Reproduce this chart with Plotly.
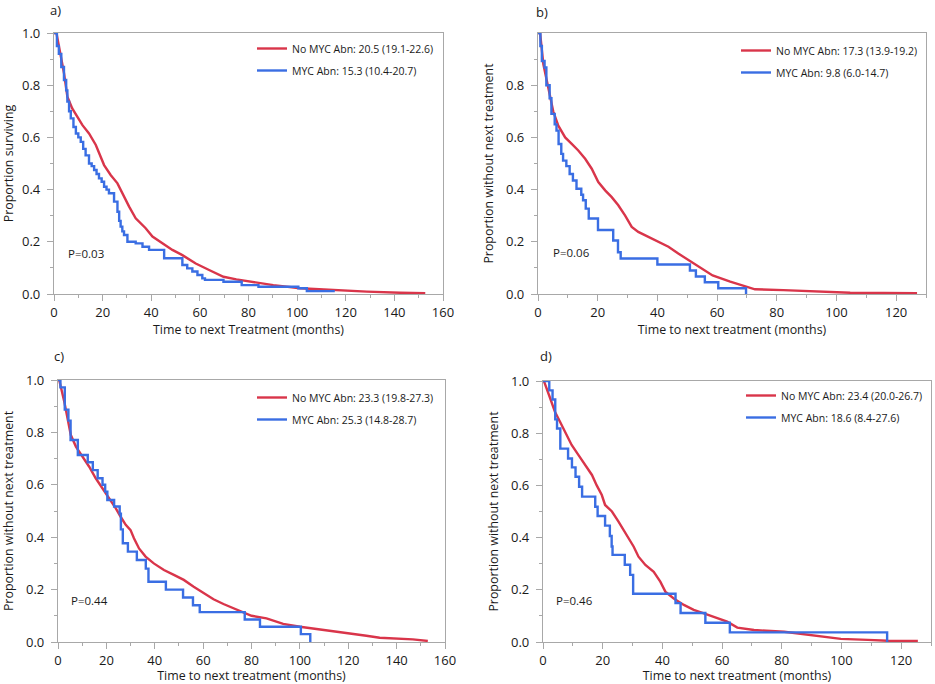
import plotly.graph_objects as go

# ---------------- data ----------------
legend_red = ["No MYC Abn: 20.5 (19.1-22.6)", "No MYC Abn: 17.3 (13.9-19.2)",
              "No MYC Abn: 23.3 (19.8-27.3)", "No MYC Abn: 23.4 (20.0-26.7)"]
legend_blue = ["MYC Abn: 15.3 (10.4-20.7)", "MYC Abn: 9.8 (6.0-14.7)",
               "MYC Abn: 25.3 (14.8-28.7)", "MYC Abn: 18.6 (8.4-27.6)"]
p_values = ["P=0.03", "P=0.06", "P=0.44", "P=0.46"]
panel_labels = ["a)", "b)", "c)", "d)"]
x_titles = ["Time to next Treatment (months)", "Time to next treatment (months)",
            "Time to next treatment (months)", "Time to next treatment (months)"]
y_titles = ["Proportion surviving", "Proportion without next treatment",
            "Proportion without next treatment", "Proportion without next treatment"]

# panel a
a_red_t = [0, 1, 4.1, 5.5, 7.5, 11.7, 14.4, 17.2, 20.6, 23.3, 26.1, 28.1, 30.9, 33.6, 37.7, 40.5,
           44.6, 48.7, 52.8, 58.3, 63.8, 69.7, 75, 80.7, 90.2, 101.2, 114.9, 128.7, 142.4, 152.7]
a_red_s = [1.0, 1.0, 0.847, 0.756, 0.711, 0.647, 0.615, 0.571, 0.494, 0.456, 0.424, 0.386, 0.335, 0.29,
           0.252, 0.22, 0.194, 0.169, 0.149, 0.117, 0.092, 0.066, 0.056, 0.047, 0.034, 0.022, 0.015,
           0.009, 0.005, 0.003]
a_blue_t = [0, 1.2, 2, 3, 4.1, 5, 5.5, 6.2, 6.9, 8, 9, 10, 11, 12, 13, 14.4, 15.5, 16.5, 17.5, 18.5,
            19.6, 20.6, 21.6, 22.6, 24.7, 26.1, 26.8, 27.4, 28.1, 28.8, 30.2, 33.6, 36.4, 39.1, 43.2,
            45.3, 50, 52.8, 54.8, 56.9, 59, 61, 62.1, 69.7, 77.2, 84.1, 100.5, 104, 115.5]
a_blue_s = [1.0, 0.95, 0.92, 0.87, 0.82, 0.78, 0.737, 0.70, 0.673, 0.64, 0.615, 0.60, 0.583, 0.556,
            0.531, 0.50, 0.49, 0.475, 0.46, 0.443, 0.43, 0.411, 0.40, 0.386, 0.354, 0.315, 0.28, 0.258,
            0.24, 0.226, 0.2, 0.194, 0.181, 0.169, 0.169, 0.137, 0.137, 0.111, 0.098, 0.086, 0.073,
            0.06, 0.054, 0.047, 0.034, 0.028, 0.022, 0.011, 0.011]

# panel b
b_red_t = [0, 0.7, 1.8, 3.5, 5.1, 6.8, 9.1, 11.3, 13.5, 15.8, 18, 20.2, 22.5, 24.7, 26.9, 29.2, 31.4,
           33.6, 37, 40.3, 43.7, 47, 50.4, 53.7, 58.5, 64.4, 68.8, 72.7, 82.2, 94, 104.6, 127]
b_red_s = [1.0, 1.0, 0.88, 0.79, 0.70, 0.645, 0.60, 0.575, 0.55, 0.518, 0.48, 0.429, 0.397, 0.371,
           0.34, 0.30, 0.257, 0.238, 0.219, 0.20, 0.181, 0.155, 0.13, 0.104, 0.071, 0.047, 0.031,
           0.018, 0.015, 0.009, 0.005, 0.003]
b_blue_t = [0, 0.8, 1.3, 2.2, 2.8, 3.9, 4.5, 5.6, 6.2, 6.9, 7.8, 8.4, 9.5, 10.6, 11.7, 12.9, 14.5,
            15.1, 16.0, 17.0, 20.1, 25.2, 26.8, 27.7, 40.0, 50.9, 52.9, 55.9, 60.4, 69.7, 69.8]
b_blue_s = [1.0, 0.95, 0.893, 0.868, 0.80, 0.75, 0.69, 0.65, 0.626, 0.575, 0.537, 0.511, 0.49, 0.46,
            0.435, 0.403, 0.38, 0.359, 0.327, 0.289, 0.245, 0.205, 0.16, 0.136, 0.113, 0.09, 0.067,
            0.045, 0.022, 0.0, 0.0]

# panel c
c_red_t = [0, 0.5, 2.6, 4, 5.3, 7.4, 10.2, 12.9, 15.6, 18.4, 21.1, 23.9, 25.9, 28, 30, 31.4, 33.5, 36.2,
           39.6, 43.8, 47.9, 52, 56.1, 60.2, 64.3, 68.4, 74, 80, 86.2, 93.1, 100, 106.8, 113.7, 120.6,
           127.5, 133, 141.2, 146.7, 152.9]
c_red_s = [1.0, 1.0, 0.917, 0.854, 0.79, 0.746, 0.707, 0.669, 0.625, 0.587, 0.548, 0.51, 0.478, 0.447,
           0.427, 0.396, 0.357, 0.326, 0.30, 0.275, 0.256, 0.237, 0.211, 0.186, 0.163, 0.145, 0.122,
           0.10, 0.09, 0.069, 0.058, 0.05, 0.042, 0.031, 0.024, 0.016, 0.013, 0.01, 0.004]
c_blue_t = [0, 1.0, 2.8, 4.3, 5.2, 8.2, 12.3, 14.4, 16.4, 18.4, 19.5, 20.4, 23.2, 25.5, 26.0, 26.8,
            28.9, 32.6, 36.3, 37.4, 44.6, 51.7, 55.8, 58.6, 77.2, 83.5, 100.4, 104.3]
c_blue_s = [1.0, 0.972, 0.887, 0.845, 0.771, 0.714, 0.686, 0.656, 0.625, 0.60, 0.574, 0.542, 0.517,
            0.49, 0.43, 0.377, 0.345, 0.313, 0.28, 0.23, 0.20, 0.17, 0.14, 0.114, 0.086, 0.058, 0.03, 0.0]

# panel d
d_red_t = [0, 0.3, 2.4, 4, 5.7, 7.4, 9.6, 11.9, 14.1, 16.4, 18, 19.7, 20.8, 23.1, 25.3, 27, 28.7, 30.4,
           32, 34.3, 37.1, 39.3, 41, 43.8, 47.2, 50.5, 53.9, 57.3, 61.7, 65.1, 70.7, 80.8, 86.4, 92,
           99.8, 108.8, 115.5, 125.6]
d_red_s = [1.0, 1.0, 0.934, 0.882, 0.844, 0.806, 0.755, 0.716, 0.678, 0.64, 0.60, 0.563, 0.525, 0.50,
           0.461, 0.429, 0.397, 0.365, 0.327, 0.295, 0.269, 0.231, 0.193, 0.167, 0.142, 0.123, 0.11,
           0.097, 0.078, 0.055, 0.046, 0.039, 0.031, 0.023, 0.012, 0.008, 0.005, 0.004]
d_blue_t = [0, 2.1, 3.2, 4.1, 4.7, 5.8, 8.4, 9.7, 10.9, 12.1, 13.1, 17.5, 18.3, 20.8, 22.4, 23.0, 23.3,
            27.4, 29.2, 30.2, 44.4, 46.1, 54.4, 62.6, 115.3]
d_blue_s = [1.0, 0.964, 0.929, 0.853, 0.818, 0.741, 0.703, 0.669, 0.633, 0.595, 0.557, 0.518, 0.483,
            0.446, 0.406, 0.366, 0.334, 0.296, 0.257, 0.185, 0.149, 0.111, 0.074, 0.037, 0.0]

red_t = [a_red_t, b_red_t, c_red_t, d_red_t]
red_s = [a_red_s, b_red_s, c_red_s, d_red_s]
blue_t = [a_blue_t, b_blue_t, c_blue_t, d_blue_t]
blue_s = [a_blue_s, b_blue_s, c_blue_s, d_blue_s]
x_max = [160, 130, 160, 130]

# ---------------- layout geometry (pixels) ----------------
W, H = 935, 684
RED = "#d9354a"
BLUE = "#3a6ee3"
FRAME = "#a8a8a8"
TXT = "#1a1a1a"
FONT = "Open Sans"

# plot-area boxes: (left, right, top, bottom) in px
boxes = [(54, 443, 33, 294), (538, 926, 33, 294), (58, 445, 380, 642), (543, 931, 381, 642)]
legend_pos = [(252, 34), (736, 36), (252, 383), (741, 381)]
p_pos = [(66, 253), (86 + 465, 252), (69, 600), (89 + 465, 600)]
label_pos = [(48, 10), (534, 12), (52, 356), (538, 356)]


def px(x):
    return x / W


def py(y):
    return 1 - y / H


fig = go.Figure()
layout = dict(width=W, height=H, margin=dict(l=0, r=0, t=0, b=0, autoexpand=False),
              paper_bgcolor="white", plot_bgcolor="white", showlegend=True,
              font=dict(family=FONT, size=12, color=TXT), annotations=[])

for i in range(4):
    n = "" if i == 0 else str(i + 1)
    xa, ya = "x" + n, "y" + n
    lg = "legend" + n
    fig.add_trace(go.Scatter(x=red_t[i], y=red_s[i], mode="lines", name=legend_red[i],
                             line=dict(color=RED, width=2.4, shape="linear"),
                             xaxis=xa, yaxis=ya, legend=lg, legendgroup="r" + n,
                             hoverinfo="skip"))
    fig.add_trace(go.Scatter(x=blue_t[i], y=blue_s[i], mode="lines", name=legend_blue[i],
                             line=dict(color=BLUE, width=2.4, shape="hv"),
                             xaxis=xa, yaxis=ya, legend=lg, legendgroup="b" + n,
                             hoverinfo="skip"))
    l, r, t, b = boxes[i]
    yvals = [0, 0.2, 0.4, 0.6, 0.8, 1.0] if i != 1 else [0, 0.2, 0.4, 0.6, 0.8]
    layout["xaxis" + n] = dict(domain=[px(l), px(r)], anchor=ya, range=[0, x_max[i]],
                               tickmode="array", tickvals=list(range(0, x_max[i] + 1, 20)),
                               ticks="outside", ticklen=6, tickcolor=FRAME, tickwidth=1,
                               minor=dict(dtick=10, ticks="outside", ticklen=3, tickcolor=FRAME),
                               showline=True, linecolor=FRAME, linewidth=1.3, mirror=True,
                               showgrid=False, zeroline=False, automargin=False,
                               tickfont=dict(size=13, color=TXT, family=FONT),
                               ticklabelstandoff=0,
                               title=dict(text=x_titles[i], font=dict(size=12.4, color=TXT, family=FONT),
                                          standoff=0))
    layout["yaxis" + n] = dict(domain=[py(b), py(t)], anchor=xa, range=[0, 1.0],
                               tickmode="array", tickvals=yvals,
                               ticktext=["%.1f" % v for v in yvals],
                               ticks="outside", ticklen=6, tickcolor=FRAME, tickwidth=1,
                               minor=dict(tickvals=[0.1, 0.3, 0.5, 0.7, 0.9], ticks="outside",
                                          ticklen=3, tickcolor=FRAME),
                               showline=True, linecolor=FRAME, linewidth=1.3, mirror=True,
                               showgrid=False, zeroline=False, automargin=False,
                               tickfont=dict(size=13, color=TXT, family=FONT),
                               ticklabelstandoff=4,
                               title=dict(text=y_titles[i], font=dict(size=12.4, color=TXT, family=FONT),
                                          standoff=9))
    lx, ly = legend_pos[i]
    layout[lg] = dict(x=px(lx), y=py(ly), xanchor="left", yanchor="top",
                      bgcolor="rgba(0,0,0,0)", borderwidth=0, tracegroupgap=3,
                      traceorder="grouped", font=dict(size=10.5, color=TXT, family=FONT))
    layout["annotations"].append(dict(text=p_values[i], x=px(p_pos[i][0]), y=py(p_pos[i][1]),
                                      xref="paper", yref="paper", xanchor="left", yanchor="middle",
                                      showarrow=False, font=dict(size=11.5, color=TXT, family=FONT)))
    layout["annotations"].append(dict(text=panel_labels[i], x=px(label_pos[i][0]),
                                      y=py(label_pos[i][1]), xref="paper", yref="paper",
                                      xanchor="left", yanchor="middle", showarrow=False,
                                      font=dict(size=13, color=TXT, family=FONT)))

fig.update_layout(**layout)
fig.write_html("out.html", config={"displayModeBar": False},
               post_script="document.body.style.margin='0';document.body.style.overflow='hidden';")
